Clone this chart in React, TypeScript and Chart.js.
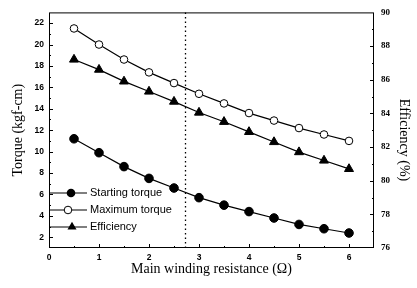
import React, { useEffect, useRef } from 'react';
import { Chart, registerables } from 'chart.js';
Chart.register(...registerables);

const resistance = [0.5, 1, 1.5, 2, 2.5, 3, 3.5, 4, 4.5, 5, 5.5, 6];
const startingTorque = [11.2, 9.9, 8.6, 7.5, 6.6, 5.7, 5.0, 4.4, 3.8, 3.2, 2.8, 2.4];
const maximumTorque = [21.5, 20.0, 18.6, 17.4, 16.4, 15.4, 14.5, 13.6, 12.9, 12.2, 11.6, 11.0];
const efficiency = [87.2, 86.6, 85.9, 85.3, 84.7, 84.05, 83.5, 82.9, 82.3, 81.7, 81.2, 80.7];
const xTicks = [0, 1, 2, 3, 4, 5, 6];
const torqueTicks = [2, 4, 6, 8, 10, 12, 14, 16, 18, 20, 22];
const effTicks = [76, 78, 80, 82, 84, 86, 88, 90];
const seriesNames = ['Starting torque', 'Maximum torque', 'Efficiency'];
const rightTitle = 'Efficiency (%)';
const dottedX = 2.72;

const tickFont = { family: "'Liberation Sans', Arial, sans-serif", size: 8.5, weight: 'bold' as const };
const rightTickFont = { family: "'Liberation Serif', 'Times New Roman', serif", size: 9, weight: 'bold' as const };
const titleFont = { family: "'Liberation Serif', 'Times New Roman', serif", size: 14 };

function drawMarker(ctx: CanvasRenderingContext2D, kind: number, x: number, y: number) {
  ctx.save();
  ctx.lineWidth = 1;
  ctx.strokeStyle = '#000';
  ctx.beginPath();
  if (kind === 0) {
    ctx.arc(x, y, 4.3, 0, Math.PI * 2);
    ctx.fillStyle = '#000';
    ctx.fill();
  } else if (kind === 1) {
    ctx.arc(x, y, 3.8, 0, Math.PI * 2);
    ctx.fillStyle = '#fff';
    ctx.fill();
    ctx.stroke();
  } else {
    const r = 5.2;
    ctx.moveTo(x, y - r);
    ctx.lineTo(x + r * 0.87, y + r * 0.5);
    ctx.lineTo(x - r * 0.87, y + r * 0.5);
    ctx.closePath();
    ctx.fillStyle = '#000';
    ctx.fill();
  }
  ctx.restore();
}

const framePlugin = {
  id: 'frame',
  afterDatasetsDraw(chart: any) {
    const ctx: CanvasRenderingContext2D = chart.ctx;
    const { left, right, top, bottom } = chart.chartArea;
    const xs = chart.scales.x;
    const ys = chart.scales.y;
    const y1 = chart.scales.y1;
    ctx.save();
    ctx.strokeStyle = '#000';
    ctx.lineWidth = 1;
    ctx.strokeRect(left + 0.5, top + 0.5, right - left - 1, bottom - top - 1);
    ctx.beginPath();
    for (let v = 0.5; v < 6.5; v += 0.5) {
      const px = Math.round(xs.getPixelForValue(v)) + 0.5;
      const len = Number.isInteger(v) ? 4 : 2;
      ctx.moveTo(px, bottom);
      ctx.lineTo(px, bottom - len);
    }
    for (let v = 2; v < 23; v += 1) {
      const py = Math.round(ys.getPixelForValue(v)) + 0.5;
      const len = v % 2 === 0 ? 4 : 2;
      ctx.moveTo(left, py);
      ctx.lineTo(left + len, py);
    }
    for (let v = 77; v < 90; v += 1) {
      const py = Math.round(y1.getPixelForValue(v)) + 0.5;
      const len = v % 2 === 0 ? 4 : 2;
      ctx.moveTo(right, py);
      ctx.lineTo(right - len, py);
    }
    ctx.stroke();
    // dotted reference line
    const dx = Math.round(xs.getPixelForValue(dottedX)) + 0.5;
    ctx.setLineDash([1.5, 3]);
    ctx.lineWidth = 1.3;
    ctx.beginPath();
    ctx.moveTo(dx, top);
    ctx.lineTo(dx, bottom);
    ctx.stroke();
    ctx.setLineDash([]);
    // legend
    const rows = [193, 210, 227];
    const mx = [71, 68, 72];
    ctx.font = "11px 'Liberation Sans', Arial, sans-serif";
    ctx.textBaseline = 'middle';
    ctx.textAlign = 'left';
    rows.forEach((ry, i) => {
      ctx.lineWidth = 1.2;
      ctx.beginPath();
      ctx.moveTo(left, ry);
      ctx.lineTo(left + 38, ry);
      ctx.stroke();
      drawMarker(ctx, i, mx[i], ry);
      ctx.fillStyle = '#000';
      ctx.fillText(seriesNames[i], left + 41, ry);
    });
    // right axis title
    ctx.translate(404, 140);
    ctx.rotate(Math.PI / 2);
    ctx.font = "14px 'Liberation Serif', 'Times New Roman', serif";
    ctx.textAlign = 'center';
    ctx.textBaseline = 'middle';
    ctx.fillStyle = '#000';
    ctx.fillText(rightTitle, 0, 0);
    ctx.restore();
  },
};

export default function App() {
  const ref = useRef<HTMLCanvasElement>(null);
  useEffect(() => {
    document.body.style.margin = '0';
    const pts = (ys: number[]) => resistance.map((x, i) => ({ x, y: ys[i] }));
    const chart = new Chart(ref.current!, {
      type: 'line',
      data: {
        datasets: [
          {
            label: seriesNames[0], data: pts(startingTorque), yAxisID: 'y',
            borderColor: '#000', borderWidth: 1.2, pointStyle: 'circle', pointRadius: 4.3,
            pointBackgroundColor: '#000', pointBorderColor: '#000', pointBorderWidth: 1,
          },
          {
            label: seriesNames[1], data: pts(maximumTorque), yAxisID: 'y',
            borderColor: '#000', borderWidth: 1.2, pointStyle: 'circle', pointRadius: 3.8,
            pointBackgroundColor: '#fff', pointBorderColor: '#000', pointBorderWidth: 1,
          },
          {
            label: seriesNames[2], data: pts(efficiency), yAxisID: 'y1',
            borderColor: '#000', borderWidth: 1.2, pointStyle: 'triangle', pointRadius: 5.2,
            pointBackgroundColor: '#000', pointBorderColor: '#000', pointBorderWidth: 1,
          },
        ],
      },
      options: {
        animation: false,
        responsive: false,
        devicePixelRatio: 1,
        layout: { padding: { top: 6, left: 0, right: 0, bottom: 0 } },
        plugins: { legend: { display: false }, tooltip: { enabled: false } },
        scales: {
          x: {
            type: 'linear', min: 0, max: 6.5,
            afterBuildTicks: (s: any) => { s.ticks = xTicks.map((v) => ({ value: v })); },
            afterFit: (s: any) => { s.height = 40; },
            grid: { display: false, drawTicks: false },
            border: { display: false },
            ticks: { color: '#000', font: tickFont, padding: 5, maxRotation: 0 },
            title: { display: true, text: 'Main winding resistance (Ω)', color: '#000', font: titleFont, padding: { top: 0, bottom: 10 } },
          },
          y: {
            type: 'linear', position: 'left', min: 1, max: 23,
            afterBuildTicks: (s: any) => { s.ticks = torqueTicks.map((v) => ({ value: v })); },
            afterFit: (s: any) => { s.width = 49; },
            grid: { display: false, drawTicks: false },
            border: { display: false },
            ticks: { color: '#000', font: tickFont, padding: 5 },
            title: { display: true, text: 'Torque (kgf-cm)', color: '#000', font: titleFont, padding: { top: 10, bottom: 0 } },
          },
          y1: {
            type: 'linear', position: 'right', min: 76, max: 90,
            afterBuildTicks: (s: any) => { s.ticks = effTicks.map((v) => ({ value: v })); },
            afterFit: (s: any) => { s.width = 43; },
            grid: { display: false, drawTicks: false },
            border: { display: false },
            ticks: { color: '#000', font: rightTickFont, padding: 7 },
            title: { display: false },
          },
        },
      },
      plugins: [framePlugin],
    } as any);
    return () => chart.destroy();
  }, []);
  return <canvas ref={ref} width={417} height={288} style={{ display: 'block' }} />;
}
